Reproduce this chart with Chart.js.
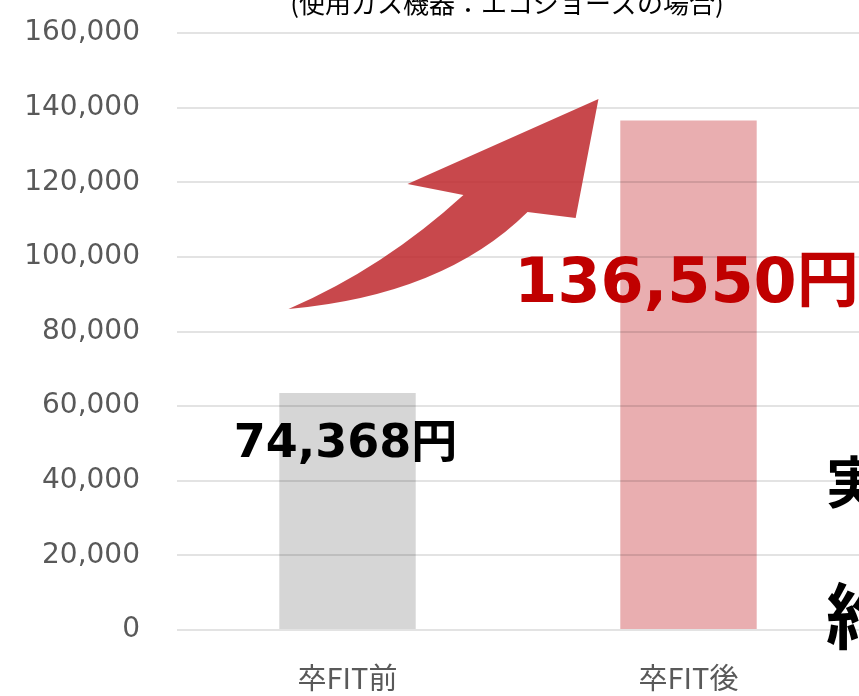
<!DOCTYPE html>
<html lang="ja">
<head>
<meta charset="utf-8">
<script src="https://cdn.jsdelivr.net/npm/chart.js@4.4.1/dist/chart.umd.min.js"></script>
<style>
  html, body { margin: 0; padding: 0; background: #fff; }
</style>
</head>
<body>
<canvas id="chart" width="859" height="696"></canvas>
<script>
// données
const categories = ["卒FIT前", "卒FIT後"];
const costs = [63500, 136550];
const valueLabels = ["74,368円", "136,550円"];
const yTicks = [0, 20000, 40000, 60000, 80000, 100000, 120000, 140000, 160000];

const barColors = ["#d6d6d6", "#e9aeb0"];
const labelColors = ["#000000", "#c00000"];

// Dessine le titre, les montants, la flèche et les textes coupés à droite
const overlay = {
  id: "overlay",
  afterDraw(chart) {
    const ctx = chart.ctx;
    const xs = chart.scales.x;
    const ys = chart.scales.y;
    const area = chart.chartArea;
    const px = p => [xs.getPixelForValue(p[0]), ys.getPixelForValue(p[1])];

    // flèche (en unités d'axe : index de catégorie, valeur)
    const tail = px([-0.173, 86030]);
    const ctrlUp = px([0.106, 97020]);
    const notchL = px([0.340, 116580]);
    const barbL = px([0.176, 119530]);
    const tip = px([0.736, 142310]);
    const barbR = px([0.669, 110420]);
    const notchR = px([0.528, 112030]);
    const ctrlLow = px([0.282, 89780]);

    ctx.save();
    ctx.fillStyle = "rgba(190, 40, 45, 0.85)";
    ctx.beginPath();
    ctx.moveTo(tail[0], tail[1]);
    ctx.quadraticCurveTo(ctrlUp[0], ctrlUp[1], notchL[0], notchL[1]);
    ctx.lineTo(barbL[0], barbL[1]);
    ctx.lineTo(tip[0], tip[1]);
    ctx.lineTo(barbR[0], barbR[1]);
    ctx.lineTo(notchR[0], notchR[1]);
    ctx.quadraticCurveTo(ctrlLow[0], ctrlLow[1], tail[0], tail[1]);
    ctx.closePath();
    ctx.fill();

    // montants
    const labelAt = [49500, 92200];
    const labelFonts = ['bold 46px "DejaVu Sans", "Noto Sans CJK JP"', 'bold 62px "DejaVu Sans", "Noto Sans CJK JP"'];
    ctx.textAlign = "center";
    ctx.textBaseline = "middle";
    valueLabels.forEach((txt, i) => {
      ctx.font = labelFonts[i];
      ctx.fillStyle = labelColors[i];
      ctx.fillText(txt, xs.getPixelForValue(i) - 2, ys.getPixelForValue(labelAt[i]));
    });

    // titre coupé en haut
    ctx.fillStyle = "#000";
    ctx.font = '26px "Noto Sans CJK JP"';
    ctx.textBaseline = "alphabetic";
    ctx.fillText("(使用ガス機器：エコジョーズの場合)", (area.left + area.right) / 2 - 11, 13);

    // textes coupés à droite
    ctx.textAlign = "left";
    ctx.textBaseline = "middle";
    ctx.font = 'bold 56px "Noto Sans CJK JP"';
    ctx.fillText("実質", 826, 482);
    ctx.font = 'bold 72px "Noto Sans CJK JP"';
    ctx.fillText("約", 826, 616);
    ctx.restore();
  }
};

new Chart(document.getElementById("chart").getContext("2d"), {
  type: "bar",
  data: {
    labels: categories,
    datasets: [{
      data: costs,
      backgroundColor: barColors,
      borderWidth: 0,
      barPercentage: 0.4,
      categoryPercentage: 1
    }]
  },
  options: {
    responsive: false,
    animation: false,
    layout: { padding: { top: 33, right: 0, bottom: 0, left: 0 } },
    plugins: {
      legend: { display: false },
      tooltip: { enabled: false }
    },
    scales: {
      x: {
        grid: { display: false },
        border: { display: false },
        ticks: {
          color: "#595959",
          font: { family: '"Noto Sans CJK JP"', size: 29 },
          padding: 23
        },
        afterFit(scale) { scale.height = 66; }
      },
      y: {
        min: 0,
        max: 160000,
        afterBuildTicks(scale) { scale.ticks = yTicks.map(v => ({ value: v })); },
        grid: {
          color: "rgba(0, 0, 0, 0.11)",
          lineWidth: 2,
          drawTicks: true,
          tickLength: 37,
          tickColor: "rgba(0, 0, 0, 0)",
          z: 1
        },
        border: { display: false },
        ticks: {
          color: "#595959",
          font: { family: '"DejaVu Sans"', size: 28 },
          padding: 0,
          callback: v => v.toLocaleString("en-US")
        },
        afterFit(scale) { scale.width = 177; }
      }
    }
  },
  plugins: [overlay]
});
</script>
</body>
</html>
